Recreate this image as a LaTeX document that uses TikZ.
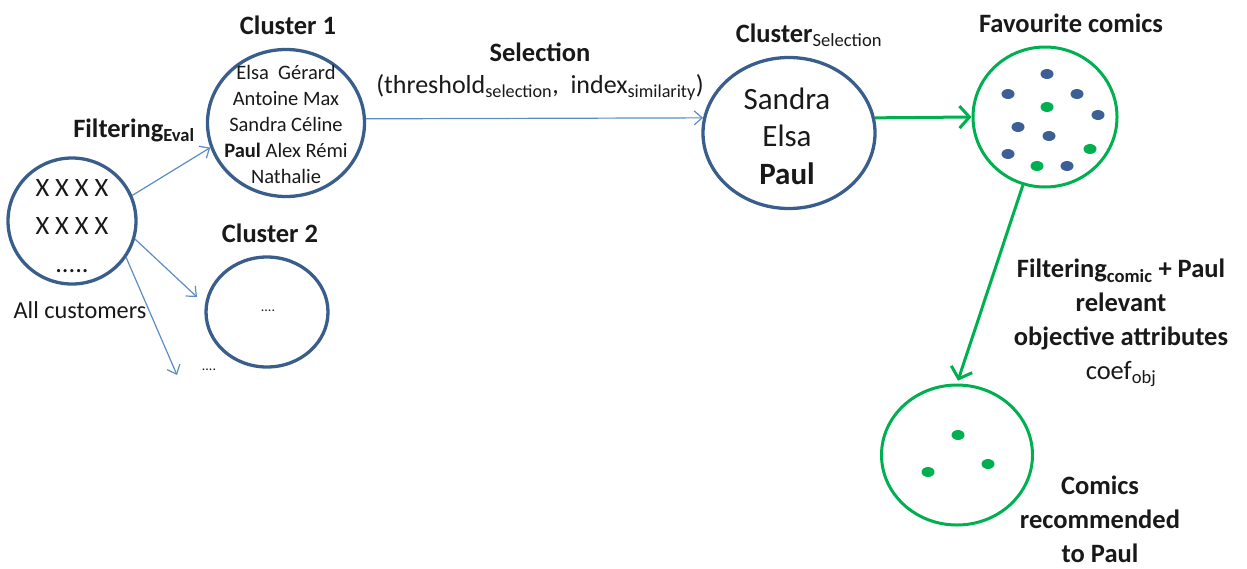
\documentclass[tikz,border=0pt]{standalone}
\usepackage{fontspec}
\setmainfont{Carlito}
\usetikzlibrary{shapes.geometric,arrows.meta,calc}
\definecolor{circblue}{RGB}{58,94,140}
\definecolor{arrblue}{RGB}{92,140,200}
\definecolor{cgreen}{RGB}{0,176,80}
\definecolor{dotblue}{RGB}{60,96,150}
\definecolor{txt}{RGB}{25,25,25}
\newcommand\fsz[2]{\fontsize{#1}{#2}\selectfont}
\begin{document}
\begin{tikzpicture}[x=1pt,y=-1pt,
  bcirc/.style={ellipse, draw=circblue, line width=3.3pt, inner sep=0pt},
  gcirc/.style={ellipse, draw=cgreen, line width=3pt, inner sep=0pt},
  barrow/.style={draw=arrblue, line width=1.2pt, -{Straight Barb[length=8pt,width=14pt]}},
  garrow/.style={draw=cgreen, line width=3pt, -{Straight Barb[length=10pt,width=22pt]}},
  head/.style={font=\fsz{26.5}{32}\bfseries, text=txt, inner sep=0pt},
  plain/.style={text=txt, inner sep=0pt, align=center},
  dotb/.style={ellipse, fill=dotblue, minimum width=13pt, minimum height=10pt, inner sep=0pt},
  dotg/.style={ellipse, fill=cgreen, minimum width=13pt, minimum height=10pt, inner sep=0pt}
]
\useasboundingbox (0,0) rectangle (1247,568);

% circles
\node[bcirc, minimum width=128pt, minimum height=126pt] (allc) at (72,221) {};
\node[bcirc, minimum width=157pt, minimum height=147pt] (c1) at (286,123) {};
\node[bcirc, minimum width=122pt, minimum height=110pt] (c2) at (267,312) {};
\node[bcirc, minimum width=172pt, minimum height=151pt] (csel) at (789,133) {};
\node[gcirc, minimum width=144pt, minimum height=140pt] (fav) at (1045,117) {};
\node[gcirc, minimum width=151pt, minimum height=140pt] (rec) at (957,455) {};

% circle contents
\node[plain, font=\fsz{26.5}{38}] (allctxt) at (72,226) {X X X X\\X X X X\\.....};
\node[plain, font=\fsz{20.5}{26}] (c1txt) at (286,124) {Elsa\ \ Gérard\\Antoine Max\\Sandra Céline\\\textbf{Paul} Alex Rémi\\Nathalie};
\node[plain, font=\fsz{14}{16}] (c2txt) at (268,311) {....};
\node[plain, font=\fsz{31}{37.5}] (cseltxt) at (787,136) {Sandra\\Elsa\\\textbf{Paul}};

% dots in favourite comics
\node[dotb] (f1) at (1047,74) {};
\node[dotb] (f2) at (1008,94) {};
\node[dotb] (f3) at (1077,94) {};
\node[dotb] (f4) at (1098,115) {};
\node[dotb] (f5) at (1018,127) {};
\node[dotb] (f6) at (1049,136) {};
\node[dotb] (f7) at (1008,154) {};
\node[dotb] (f8) at (1067,166) {};
\node[dotg] (g1) at (1047,107) {};
\node[dotg] (g2) at (1090,149) {};
\node[dotg] (g3) at (1037,166) {};
% dots in recommended comics
\node[dotg] (r1) at (958,435) {};
\node[dotg] (r2) at (928,472) {};
\node[dotg] (r3) at (988,464) {};

% labels
\node[head] (lc1) at (288,25) {Cluster 1};
\node[head] (lc2) at (270,233) {Cluster 2};
\node[head] (lfilt) at (134,130) {Filtering\textsubscript{Eval}};
\node[plain, font=\fsz{24.3}{28}] (lall) at (80,310) {All customers};
\node[plain, font=\fsz{14}{16}] (more) at (209,370) {....};
\node[head] (lsel) at (540,52) {Selection};
\node[plain, font=\fsz{26}{30}] (lparam) at (540,87) {(threshold\textsubscript{selection},\ \ index\textsubscript{similarity})};
\node[head] (lcsel) at (809,35) {Cluster\textsubscript{\mdseries Selection}};
\node[head] (lfav) at (1071,23) {Favourite comics};
\node[plain, font=\fsz{26.5}{34}\bfseries] (lfc) at (1121,323) {Filtering\textsubscript{comic} + Paul\\relevant\\objective attributes\\{\mdseries coef\textsubscript{obj}}};
\node[plain, font=\fsz{26.5}{34}\bfseries] (lrec) at (1100,519) {Comics\\recommended\\to Paul};

% connectors
\coordinate (c2in) at (197,297);
\coordinate (morein) at (177,375);
\draw[barrow] (allc.23) -- (c1.198);
\draw[barrow] (allc.-16) -- (c2in);
\draw[barrow] (allc.-34) -- (morein);
\draw[barrow] (c1.3) -- (csel.170);
\draw[garrow] (csel.10) -- (fav.west);
\draw[garrow, shorten >=3pt] (fav.-108) -- (rec.north);
\end{tikzpicture}
\end{document}
